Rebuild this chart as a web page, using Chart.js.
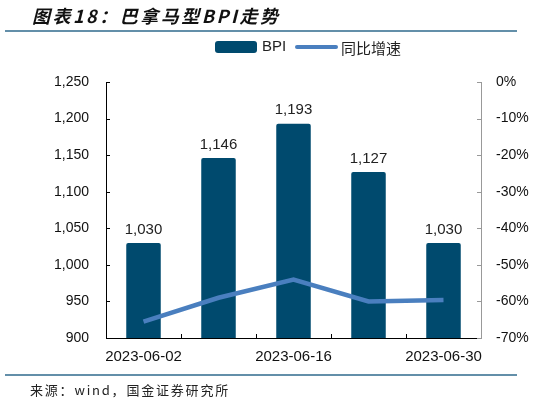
<!DOCTYPE html>
<html>
<head>
<meta charset="utf-8">
<script src="https://cdn.jsdelivr.net/npm/chart.js@4"></script>
<style>
  html, body { margin: 0; padding: 0; background: #fff; }
  #wrap { width: 559px; height: 404px; position: relative; }
</style>
</head>
<body>
<div id="wrap"><canvas id="chart" width="559" height="404"></canvas></div>
<script>
const titleText = '图表18：巴拿马型BPI走势';
const sourceText = '来源：wind，国金证券研究所';
const dates = ['2023-06-02', '2023-06-09', '2023-06-16', '2023-06-23', '2023-06-30'];
const bpiValues = [1030, 1146, 1193, 1127, 1030];
const yoyValues = [-65.5, -59, -54, -60, -59.6];
const seriesNames = ['BPI', '同比增速'];

const barColor = '#004a6e';
const lineColor = '#4a7fbf';
const latin = '"Liberation Sans", Arial, sans-serif';
const cjk = '"Noto Sans CJK SC", sans-serif';

// ticks drawn inside the plot, plus title, legend, value labels and source
const decor = {
    id: 'decor',
    afterDraw(chart) {
        const ctx = chart.ctx;
        const x = chart.scales.x, y = chart.scales.y, y1 = chart.scales.y1;
        const area = chart.chartArea;
        ctx.save();

        // inner tick marks
        ctx.lineWidth = 1;
        ctx.strokeStyle = '#000';
        y.ticks.forEach((t, i) => {
            const py = Math.round(y.getPixelForTick(i)) + 0.5;
            ctx.beginPath(); ctx.moveTo(area.left, py); ctx.lineTo(area.left + 4, py); ctx.stroke();
        });
        ctx.strokeStyle = '#999';
        y1.ticks.forEach((t, i) => {
            const py = Math.round(y1.getPixelForTick(i)) + 0.5;
            ctx.beginPath(); ctx.moveTo(area.right - 4, py); ctx.lineTo(area.right, py); ctx.stroke();
        });
        ctx.strokeStyle = '#000';
        for (let i = 0; i < dates.length - 1; i++) {
            const px = Math.round((x.getPixelForTick(i) + x.getPixelForTick(i + 1)) / 2) + 0.5;
            ctx.beginPath(); ctx.moveTo(px, area.bottom); ctx.lineTo(px, area.bottom - 4); ctx.stroke();
        }

        // value labels above bars
        const meta = chart.getDatasetMeta(1);
        ctx.fillStyle = '#222';
        ctx.font = '15px ' + latin;
        ctx.textAlign = 'center';
        ctx.textBaseline = 'bottom';
        meta.data.forEach((bar, i) => {
            ctx.fillText(bpiValues[i].toLocaleString('en-US'), bar.x, bar.y - 6);
        });

        // title and rules
        ctx.textAlign = 'left';
        ctx.textBaseline = 'alphabetic';
        ctx.fillStyle = '#111';
        ctx.font = 'italic bold 18px ' + cjk;
        ctx.letterSpacing = '2.5px';
        ctx.fillText(titleText, 32, 23);
        ctx.strokeStyle = '#2f6a8c';
        ctx.lineWidth = 1.5;
        ctx.beginPath(); ctx.moveTo(5, 31); ctx.lineTo(517, 31); ctx.stroke();
        ctx.beginPath(); ctx.moveTo(5, 375); ctx.lineTo(517, 375); ctx.stroke();

        ctx.fillStyle = '#222';
        ctx.font = '13px ' + cjk;
        ctx.letterSpacing = '1.8px';
        ctx.fillText(sourceText, 30, 395);
        ctx.letterSpacing = '0px';

        // legend
        const ly = 47;
        ctx.fillStyle = barColor;
        ctx.beginPath();
        ctx.roundRect(215, ly - 6, 42, 12, 3);
        ctx.fill();
        ctx.fillStyle = '#222';
        ctx.font = '15px ' + latin;
        ctx.textBaseline = 'middle';
        ctx.fillText(seriesNames[0], 262, ly);
        ctx.strokeStyle = lineColor;
        ctx.lineWidth = 4;
        ctx.lineCap = 'round';
        ctx.beginPath(); ctx.moveTo(297, ly); ctx.lineTo(336, ly); ctx.stroke();
        ctx.font = '15px ' + cjk;
        ctx.fillText(seriesNames[1], 341, ly + 1);

        ctx.restore();
    }
};

new Chart(document.getElementById('chart'), {
    data: {
        labels: dates,
        datasets: [
            {
                type: 'line',
                label: seriesNames[1],
                data: yoyValues,
                yAxisID: 'y1',
                borderColor: lineColor,
                borderWidth: 4.5,
                pointRadius: 0,
                tension: 0,
                order: 0
            },
            {
                type: 'bar',
                label: seriesNames[0],
                data: bpiValues,
                yAxisID: 'y',
                backgroundColor: barColor,
                borderRadius: 2,
                borderSkipped: 'bottom',
                barPercentage: 0.46,
                categoryPercentage: 1,
                order: 1
            }
        ]
    },
    options: {
        responsive: false,
        animation: false,
        layout: { padding: { top: 82, left: 0, right: 0, bottom: 0 } },
        plugins: { legend: { display: false }, tooltip: { enabled: false } },
        scales: {
            x: {
                grid: { display: false, drawTicks: false },
                border: { display: true, color: '#000', width: 1 },
                ticks: {
                    autoSkip: false,
                    maxRotation: 0,
                    padding: 10,
                    color: '#111',
                    font: { family: latin, size: 15 },
                    callback: (v, i) => i % 2 === 0 ? dates[i] : ''
                },
                afterFit: s => { s.height = 66; }
            },
            y: {
                position: 'left',
                min: 900, max: 1250,
                grid: { display: false, drawTicks: false },
                border: { display: true, color: '#000', width: 1 },
                ticks: {
                    stepSize: 50,
                    padding: 17,
                    color: '#111',
                    font: { family: latin, size: 14 },
                    callback: v => v.toLocaleString('en-US')
                },
                afterFit: s => { s.width = 106; }
            },
            y1: {
                position: 'right',
                min: -70, max: 0,
                grid: { display: false, drawTicks: false },
                border: { display: true, color: '#999', width: 1 },
                ticks: {
                    stepSize: 10,
                    padding: 15,
                    color: '#111',
                    font: { family: latin, size: 14 },
                    callback: v => v + '%'
                },
                afterFit: s => { s.width = 78; }
            }
        }
    },
    plugins: [decor]
});
</script>
</body>
</html>
